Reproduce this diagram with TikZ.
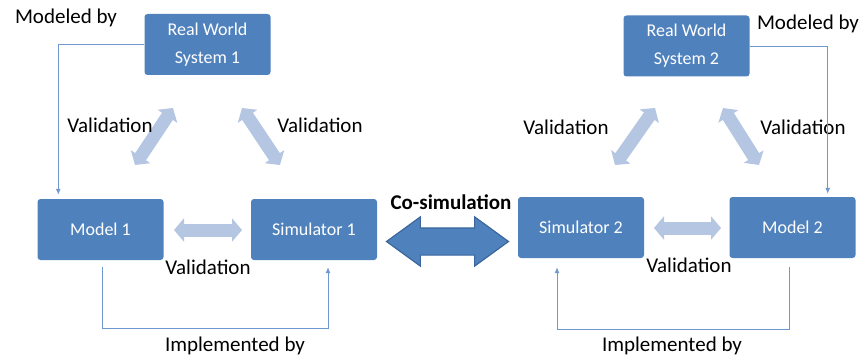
\documentclass[tikz,border=0pt]{standalone}
\usepackage{fontspec}
\setmainfont{Carlito}
\usetikzlibrary{arrows.meta,shapes.arrows,calc}
\definecolor{boxblue}{HTML}{4F81BD}
\definecolor{lineblue}{HTML}{6F98CE}
\definecolor{paleblue}{HTML}{B4C6E2}
\definecolor{edgeblue}{HTML}{3B679C}

\begin{document}
\begin{tikzpicture}
  [x=1pt,y=-1pt,
   box/.style={rectangle,rounded corners=3pt,fill=boxblue,text=white,minimum width=126pt,minimum height=61pt,align=center,font=\fontsize{18}{28}\selectfont},
   lbl/.style={font=\fontsize{21}{24}\selectfont},
   link/.style={draw=lineblue,line width=0.9pt,-{Latex[length=6pt,width=5pt]}},
   val/.style={draw=paleblue,line width=13pt,{Triangle[length=10pt,width=23pt]}-{Triangle[length=10pt,width=23pt]}},
   cosim/.style={double arrow,draw=edgeblue,line width=1.2pt,fill=boxblue,minimum height=122pt,double arrow head extend=11pt,double arrow tip angle=72,inner xsep=0pt,inner ysep=13pt}]
  \useasboundingbox (0,0) rectangle (864,358);

  \node[box] (rws1) at (207.5,44.5) {Real World\\System 1};
  \node[box] (rws2) at (686.5,46)   {Real World\\System 2};
  \node[box] (model1) at (100.5,229.5) {Model 1};
  \node[box] (sim1)   at (314,229.5)   {Simulator 1};
  \node[box] (sim2)   at (581,227.5)   {Simulator 2};
  \node[box] (model2) at (792.5,227.5) {Model 2};

  % validation arrows
  \coordinate (v1a) at (135,165); \coordinate (v1b) at (173,108);
  \coordinate (v2a) at (242,108); \coordinate (v2b) at (280,165);
  \coordinate (v3a) at (174,230); \coordinate (v3b) at (242,230);
  \coordinate (v4a) at (615,165); \coordinate (v4b) at (655,108);
  \coordinate (v5a) at (723,108); \coordinate (v5b) at (759,165);
  \coordinate (v6a) at (654,228); \coordinate (v6b) at (721,228);
  \foreach \from/\to in {v1a/v1b,v2a/v2b,v3a/v3b,v4a/v4b,v5a/v5b,v6a/v6b}
    \draw[val] (\from) -- (\to);

  \node[lbl] (val1) at (110,125) {Validation};
  \node[lbl] (val2) at (320,125) {Validation};
  \node[lbl] (val3) at (208,267) {Validation};
  \node[lbl] (val4) at (566,127) {Validation};
  \node[lbl] (val5) at (803,127) {Validation};
  \node[lbl] (val6) at (689,265) {Validation};

  % modeled by
  \draw[link] (rws1.west) -| ([xshift=21pt,yshift=4pt]model1.north west);
  \draw[link] (rws2.east) -| ([xshift=-28pt,yshift=3pt]model2.north east);
  \node[lbl] (mod1) at (66,18) {Modeled by};
  \node[lbl] (mod2) at (808,24) {Modeled by};

  % implemented by
  \draw[link] ([xshift=1.5pt,yshift=-7pt]model1.south) -- ++(0,61) -| ([xshift=14pt,yshift=-7pt]sim1.south);
  \draw[link] ([xshift=-3.5pt,yshift=-9pt]model2.south) -- ++(0,62) -| ([xshift=-24pt,yshift=-9pt]sim2.south);
  \node[lbl] (imp1) at (235,346) {Implemented by};
  \node[lbl] (imp2) at (672,346) {Implemented by};

  % co-simulation
  \node[cosim] (co) at ($(sim1.east)!0.5!(sim2.west)+(0,13)$) {};
  \node[lbl,font=\fontsize{21}{24}\bfseries] (colbl) at (451,202) {Co-simulation};

\end{tikzpicture}
\end{document}
